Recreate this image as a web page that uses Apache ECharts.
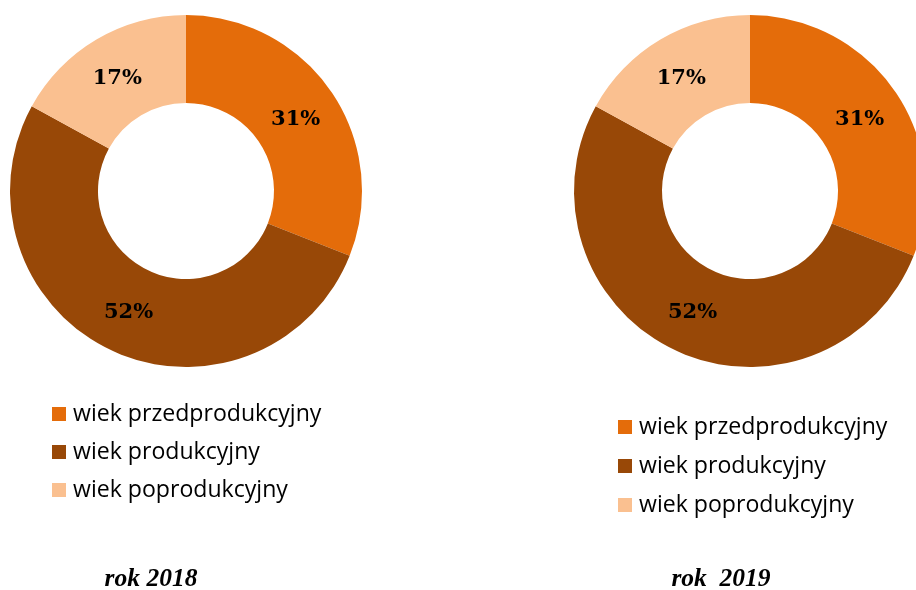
<!DOCTYPE html>
<html><head><meta charset="utf-8">
<script src="https://cdn.jsdelivr.net/npm/echarts@6/dist/echarts.min.js"></script>
<style>html,body{margin:0;padding:0;background:#fff}#c{width:916px;height:590px}</style>
</head><body><div id="c"></div>
<script>
var categories = ['wiek przedprodukcyjny', 'wiek produkcyjny', 'wiek poprodukcyjny'];
var values2018 = [31, 52, 17];
var values2019 = [31, 52, 17];
var years = ['rok 2018', 'rok  2019'];
var colors = ['#E46C0A', '#984807', '#FAC090'];
var labelNudge = [[-2, 4], [0, -1], [0, 4]];

function mk(vals) {
  return vals.map(function (v, i) {
    return { name: categories[i], value: v, itemStyle: { color: colors[i] }, label: { offset: labelNudge[i] } };
  });
}
var labelStyle = {
  show: true, position: 'inside', formatter: '{c}%',
  fontFamily: 'DejaVu Serif', fontWeight: 'bold', fontSize: 21, color: '#000'
};
var legendText = { fontFamily: 'Open Sans', fontSize: 23.1, color: '#000', lineHeight: 26, padding: [0, 0, 0, 2] };
var titleText = { fontFamily: 'Liberation Serif', fontStyle: 'italic', fontWeight: 'bold', fontSize: 25.5, color: '#000' };
var chart = echarts.init(document.getElementById('c'));
chart.setOption({
  animation: false,
  legend: [
    { orient: 'vertical', left: 52, top: 401, padding: 0, itemWidth: 14, itemHeight: 14, itemGap: 12, icon: 'rect',
      data: categories, selectedMode: false, textStyle: legendText },
    { orient: 'vertical', left: 618, top: 414, padding: 0, itemWidth: 14, itemHeight: 14, itemGap: 13, icon: 'rect',
      data: categories, selectedMode: false, textStyle: legendText }
  ],
  title: [
    { text: years[0], left: 151, top: 566, padding: 0, textAlign: 'center', textStyle: titleText },
    { text: years[1], left: 721, top: 566, padding: 0, textAlign: 'center', textStyle: titleText }
  ],
  series: [
    { type: 'pie', center: [186, 191], radius: [88, 176], startAngle: 90, clockwise: true,
      label: labelStyle, labelLine: { show: false }, silent: true, data: mk(values2018) },
    { type: 'pie', center: [750, 191], radius: [88, 176], startAngle: 90, clockwise: true,
      label: labelStyle, labelLine: { show: false }, silent: true, data: mk(values2019) }
  ]
});
</script></body></html>
